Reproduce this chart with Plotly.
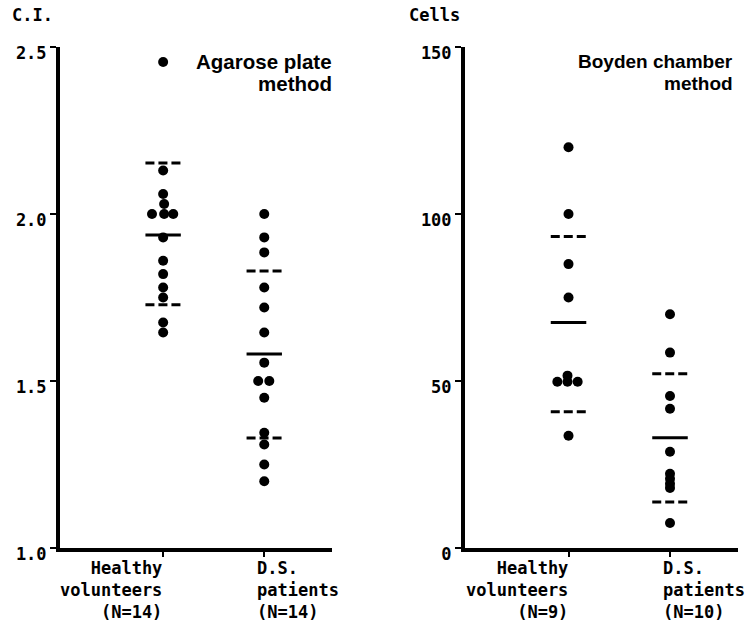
import plotly.graph_objects as go

# ---------------- data ----------------
group_pos = [1, 2]  # Healthy volunteers, D.S. patients

# Agarose plate method (C.I.)
ci_healthy = [2.455, 2.13, 2.06, 2.03, 2.00, 2.00, 2.00, 1.93, 1.86, 1.82, 1.78, 1.75, 1.675, 1.645]
ci_healthy_dx = [0, 0, 0, 0.01, -0.11, 0.01, 0.10, 0, 0, 0, 0, 0, 0, 0]
ci_ds = [2.00, 1.93, 1.885, 1.78, 1.72, 1.645, 1.555, 1.50, 1.50, 1.45, 1.345, 1.31, 1.25, 1.20]
ci_ds_dx = [0, 0, 0, 0, 0, 0, 0, -0.06, 0.05, 0, 0, 0, 0, 0]
ci_mean = [1.937, 1.581]
ci_upper = [2.153, 1.829]
ci_lower = [1.728, 1.329]

# Boyden chamber method (Cells)
cells_healthy = [120, 100, 85, 75, 51.6, 49.8, 49.8, 49.8, 33.6]
cells_healthy_dx = [0, 0, 0, 0, -0.01, -0.11, -0.01, 0.09, 0]
cells_ds = [70, 58.5, 45.5, 41.7, 28.8, 22.2, 20.7, 19.2, 18.0, 7.5]
cells_ds_dx = [0] * 10
cells_mean = [67.5, 33.0]
cells_upper = [93.3, 52.2]
cells_lower = [40.8, 13.8]

ci_ticks = [1.0, 1.5, 2.0, 2.5]
ci_ticktext = ["1.0", "1.5", "2.0", "2.5"]
cells_ticks = [0, 50, 100, 150]
cells_ticktext = ["0", "50", "100", "150"]

cat_labels_left = ["Healthy<br>volunteers<br>(N=14)", "D.S.<br>patients<br>(N=14)"]
cat_labels_right = ["Healthy<br>volunteers<br>(N=9)", "D.S.<br>patients<br>(N=10)"]

# ---------------- figure ----------------
MONO = "DejaVu Sans Mono"
SANS = "Liberation Sans"
HALF = 0.175

fig = go.Figure()


def add_panel(xa, ya, hv, hv_dx, ds, ds_dx, mean, upper, lower):
    xs = [group_pos[0] + d for d in hv_dx] + [group_pos[1] + d for d in ds_dx]
    ys = list(hv) + list(ds)
    fig.add_trace(go.Scatter(x=xs, y=ys, mode="markers", xaxis=xa, yaxis=ya,
                             marker=dict(color="black", size=10, line=dict(width=0)),
                             showlegend=False, hoverinfo="skip"))
    for i, g in enumerate(group_pos):
        fig.add_trace(go.Scatter(x=[g - HALF, g + HALF], y=[mean[i], mean[i]], mode="lines",
                                 xaxis=xa, yaxis=ya, line=dict(color="black", width=3),
                                 showlegend=False, hoverinfo="skip"))
        for v in (upper[i], lower[i]):
            fig.add_trace(go.Scatter(x=[g - HALF, g + HALF], y=[v, v], mode="lines",
                                     xaxis=xa, yaxis=ya,
                                     line=dict(color="black", width=3, dash="9px,4px"),
                                     showlegend=False, hoverinfo="skip"))


add_panel("x", "y", ci_healthy, ci_healthy_dx, ci_ds, ci_ds_dx, ci_mean, ci_upper, ci_lower)
add_panel("x2", "y2", cells_healthy, cells_healthy_dx, cells_ds, cells_ds_dx,
          cells_mean, cells_upper, cells_lower)

W, H = 749, 626
ydom = [1 - 548 / H, 1 - 47 / H]

common_x = dict(range=[-0.02, 2.67], showgrid=False, zeroline=False, showline=True,
                linecolor="black", linewidth=4, ticks="outside", ticklen=5, tickwidth=2,
                tickcolor="black", tickvals=group_pos, showticklabels=False, automargin=False)
common_y = dict(showgrid=False, zeroline=False, showline=True, linecolor="black",
                linewidth=4, ticks="outside", ticklen=6, tickwidth=2, tickcolor="black",
                tickfont=dict(family=MONO, size=17, color="black", weight="bold"),
                ticklabelshift=6, ticklabelstandoff=0, domain=ydom, automargin=False)

fig.update_layout(
    width=W, height=H,
    margin=dict(l=0, r=0, t=0, b=0, autoexpand=False),
    paper_bgcolor="white", plot_bgcolor="white",
    xaxis=dict(domain=[60 / W, 332 / W], anchor="y", **common_x),
    yaxis=dict(range=[1.0, 2.5], tickvals=ci_ticks, ticktext=ci_ticktext, anchor="x", **common_y),
    xaxis2=dict(domain=[465 / W, 738 / W], anchor="y2", **common_x),
    yaxis2=dict(range=[0, 150], tickvals=cells_ticks, ticktext=cells_ticktext, anchor="x2", **common_y),
)

ann = []
mono_font = dict(family=MONO, size=17, color="black", weight="bold")

# axis titles
ann.append(dict(text="C.I.", xref="paper", yref="paper", x=10 / W, y=1 - 15 / H,
                xanchor="left", yanchor="middle", showarrow=False, font=mono_font))
ann.append(dict(text="Cells", xref="paper", yref="paper", x=407 / W, y=1 - 15 / H,
                xanchor="left", yanchor="middle", showarrow=False, font=mono_font))

# method labels
for txt, yy, xr, fs in [("Agarose plate", 62, 334, 20.5), ("method", 84, 334, 20.5),
                        ("Boyden chamber", 62, 735, 19), ("method", 84, 735, 19)]:
    ann.append(dict(text=txt, xref="paper", yref="paper", x=xr / W, y=1 - yy / H,
                    xanchor="right", yanchor="middle", showarrow=False,
                    font=dict(family=SANS, size=fs, color="black", weight="bold")))

# category labels
for xa, labels in (("x", cat_labels_left), ("x2", cat_labels_right)):
    ann.append(dict(text=labels[0], xref=xa, yref="paper", x=group_pos[0], xshift=1,
                    y=1 - 556 / H, xanchor="right", yanchor="top", align="right",
                    showarrow=False, font=mono_font))
    ann.append(dict(text=labels[1], xref=xa, yref="paper", x=group_pos[1], xshift=-9,
                    y=1 - 556 / H, xanchor="left", yanchor="top", align="left",
                    showarrow=False, font=mono_font))

fig.update_layout(annotations=ann)

fig.write_html("out.html")
